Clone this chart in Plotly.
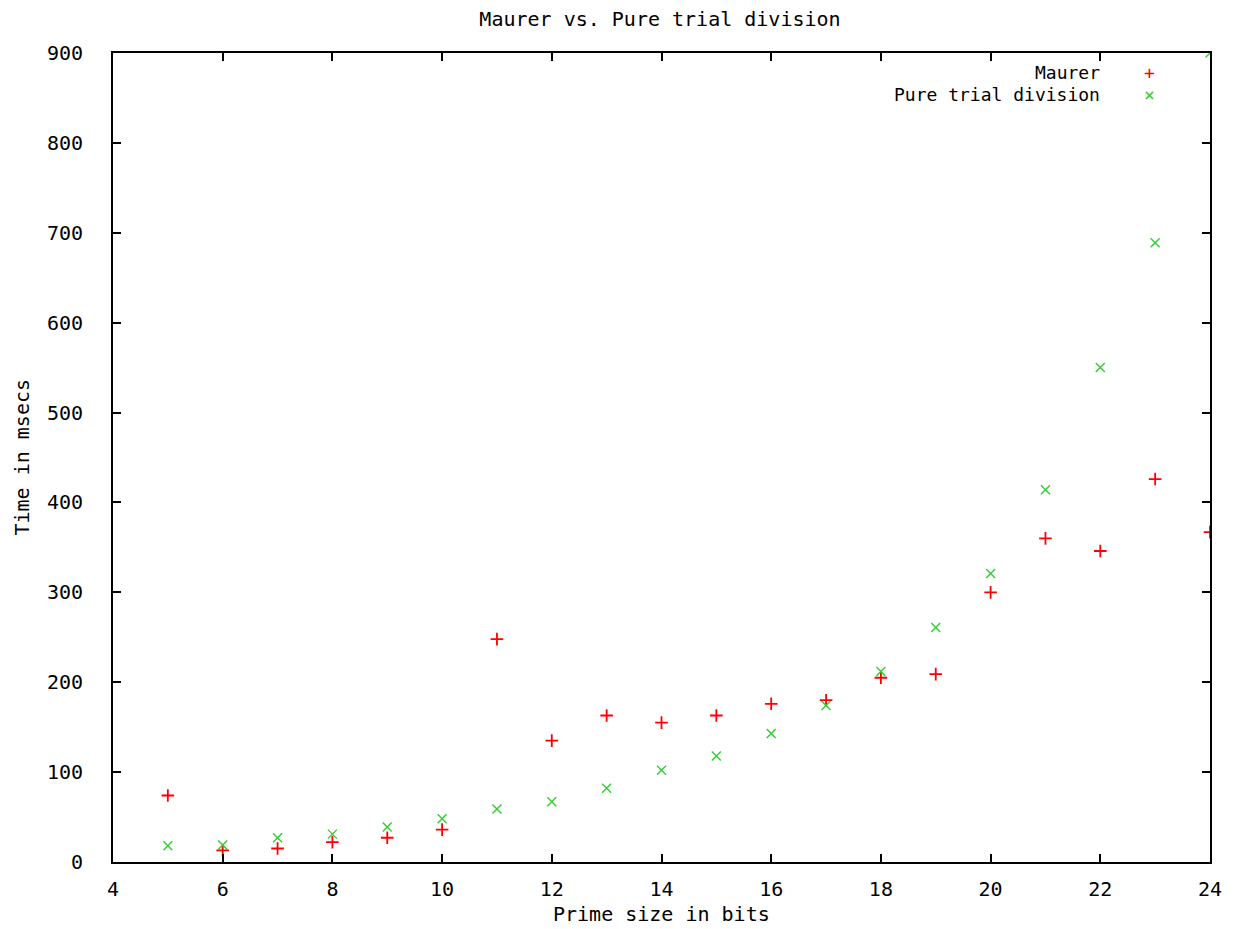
import plotly.graph_objects as go

bits = [5, 6, 7, 8, 9, 10, 11, 12, 13, 14, 15, 16, 17, 18, 19, 20, 21, 22, 23, 24]
maurer = [74, 13, 15, 22, 27, 36, 248, 135, 163, 155, 163, 176, 180, 205, 209, 300, 360, 346, 426, 367]
pure_trial = [18, 19, 27, 31, 39, 48, 59, 67, 82, 102, 118, 143, 174, 212, 261, 321, 414, 550, 689, 900]

x_ticks = [4, 6, 8, 10, 12, 14, 16, 18, 20, 22, 24]
y_ticks = [0, 100, 200, 300, 400, 500, 600, 700, 800, 900]

RED = "#ff0000"
GREEN = "#33cc33"
FONT = "DejaVu Sans Mono"
FS = 20
LFS = 18

fig = go.Figure()
fig.add_trace(go.Scatter(x=bits, y=maurer, mode="markers", name="Maurer",
                         marker=dict(symbol="cross-thin", size=9, line=dict(color=RED, width=1.8))))
fig.add_trace(go.Scatter(x=bits, y=pure_trial, mode="markers", name="Pure trial division",
                         marker=dict(symbol="x-thin", size=9, line=dict(color=GREEN, width=1.4))))

axis_common = dict(showgrid=False, zeroline=False, showline=True, linecolor="black", linewidth=2,
                   mirror="ticks", ticks="inside", ticklen=8, tickwidth=1.5, tickcolor="black",
                   automargin=False,
                   tickfont=dict(family=FONT, size=FS, color="black"))

fig.update_xaxes(range=[4, 24], tickvals=x_ticks, ticktext=[str(v) for v in x_ticks],
                 ticklabelstandoff=8, **axis_common)
fig.update_yaxes(range=[0, 900], tickvals=y_ticks, ticktext=[str(v) for v in y_ticks],
                 ticklabelstandoff=24, **axis_common)

# axis titles
fig.add_annotation(xref="paper", yref="paper", x=0.5, y=0, yshift=-52, xanchor="center", yanchor="middle",
                   text="Prime size in bits", showarrow=False, font=dict(family=FONT, size=FS, color="black"))
fig.add_annotation(xref="paper", yref="paper", x=0, y=0.5, xshift=-92, xanchor="center", yanchor="middle",
                   textangle=-90, text="Time in msecs", showarrow=False,
                   font=dict(family=FONT, size=FS, color="black"))

# gnuplot-style legend: right-aligned text, marker key to the right
fig.add_annotation(xref="paper", yref="paper", x=0.9015, y=0.9765, xanchor="right", yanchor="middle",
                   text="Maurer", showarrow=False, font=dict(family=FONT, size=LFS, color="black"))
fig.add_annotation(xref="paper", yref="paper", x=0.9015, y=0.9481, xanchor="right", yanchor="middle",
                   text="Pure trial division", showarrow=False, font=dict(family=FONT, size=LFS, color="black"))
fig.add_annotation(xref="paper", yref="paper", x=0.9444, y=0.9765, xanchor="center", yanchor="middle",
                   text="+", showarrow=False, font=dict(family=FONT, size=18, color=RED))
fig.add_annotation(xref="paper", yref="paper", x=0.9444, y=0.9481, xanchor="center", yanchor="middle",
                   text="×", showarrow=False, font=dict(family=FONT, size=18, color=GREEN))

fig.update_layout(
    width=1226, height=921,
    margin=dict(l=105, r=24, t=45, b=67),
    paper_bgcolor="white", plot_bgcolor="white",
    showlegend=False,
    title=dict(text="Maurer vs. Pure trial division", x=0.5318, xanchor="center",
               y=1 - 11 / 921, yanchor="middle",
               font=dict(family=FONT, size=FS, color="black")),
)

fig.write_html("out.html")
